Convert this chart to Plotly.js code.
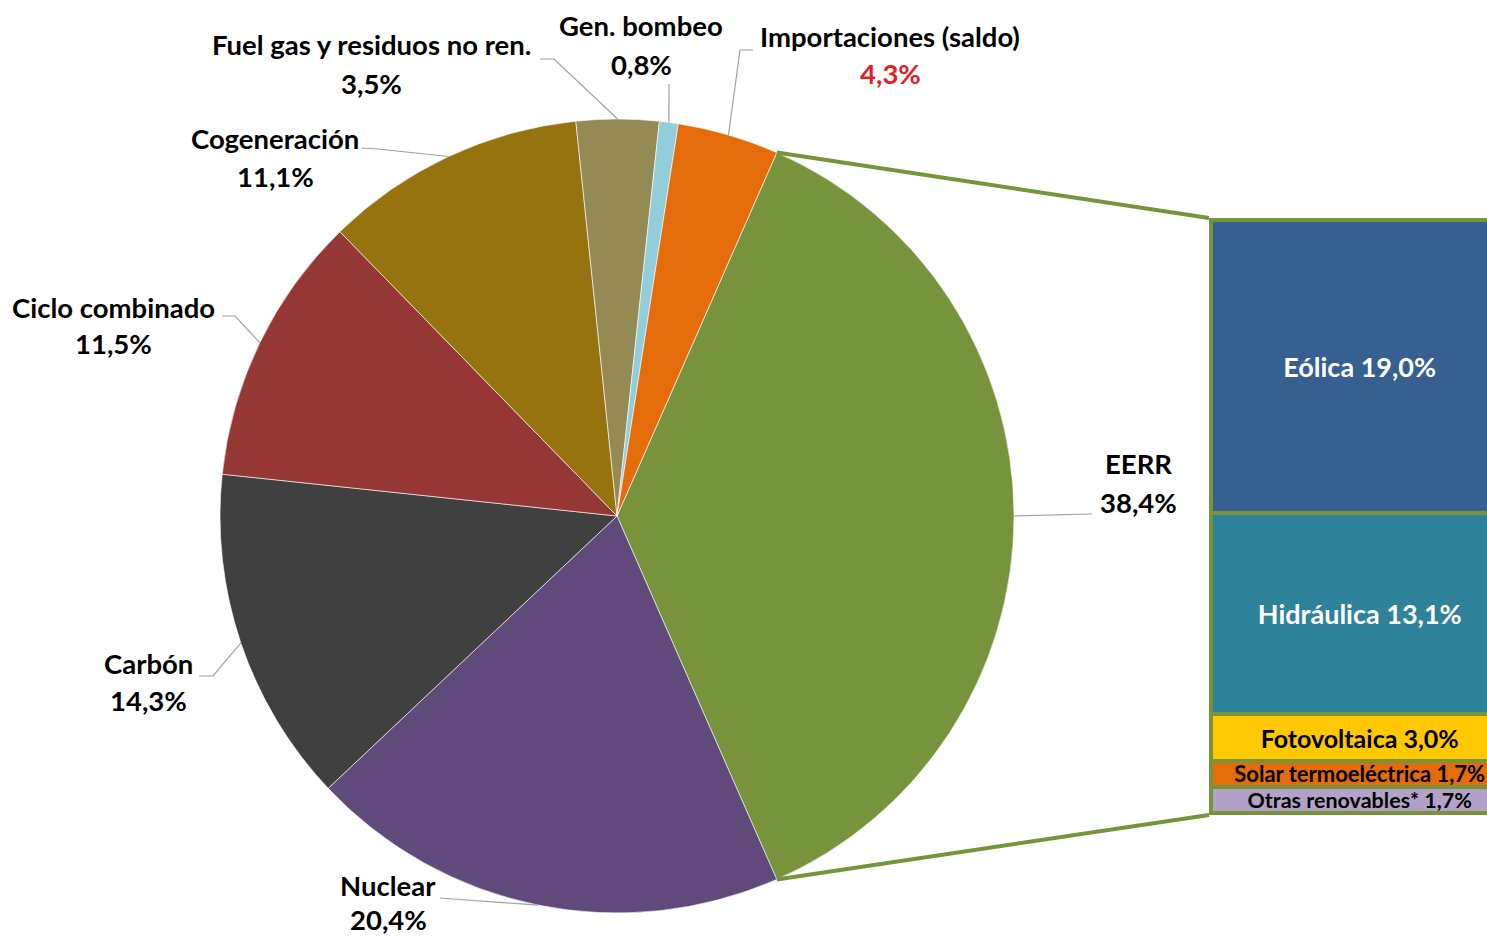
<!DOCTYPE html>
<html>
<head>
<meta charset="utf-8">
<script src="https://cdn.plot.ly/plotly-3.0.1.min.js"></script>
<style>html,body{margin:0;padding:0;background:#fff;}#chart{width:1487px;height:939px;}</style>
</head>
<body>
<div id="chart"></div>
<script>
// ---------- DATA ----------
const categories = ['EERR', 'Nuclear', 'Carbón', 'Ciclo combinado', 'Cogeneración',
  'Fuel gas y residuos no ren.', 'Gen. bombeo', 'Importaciones (saldo)'];
const shares = [38.4, 20.4, 14.3, 11.5, 11.1, 3.5, 0.8, 4.3];
const sliceColors = ['#77933C', '#604A7B', '#404040', '#953735', '#96730F', '#948A54', '#92CDDC', '#E46C0A'];

const renewCategories = ['Eólica', 'Hidráulica', 'Fotovoltaica', 'Solar termoeléctrica', 'Otras renovables*'];
const renewShares = [19.0, 13.1, 3.0, 1.7, 1.7];
const renewColors = ['#36608F', '#2E8299', '#FFC800', '#E46C0A', '#B3A2C7'];
const renewTextColors = ['#FFFFFF', '#FFFFFF', '#000000', '#000000', '#000000'];
const renewTextSizes = [27, 27, 25, 22, 21.5];

// ---------- LAYOUT SETTINGS ----------
const W = 1487, H = 939;
const FONT = 'Lato, "Open Sans", sans-serif';
const LABEL_SIZE = 27.5;
const green = '#77933C';
const pieCx = 617, pieCy = 516, pieR = 397;           // pixel placement of the pie
const pieDomX = [(pieCx - pieR) / W, (pieCx + pieR) / W];
const pieDomY = [(H - pieCy - pieR) / H, (H - pieCy + pieR) / H];

const barTopPx = 220, barBottomPx = 813, barLine = 4;
const xDom = [0.8, 1], xRange = [-0.572, 0.428];
const renewTotal = renewShares.reduce((a, b) => a + b, 0);
const pad = 0.4;
const yRange = [-pad, renewTotal + pad];
const pxPerUnit = (barBottomPx - barTopPx) / renewTotal;
const yDom = [(H - (barBottomPx + pad * pxPerUnit)) / H, (H - (barTopPx - pad * pxPerUnit)) / H];

// Label placement (pixels): name centre, pct centre, leader path points from text to slice edge
const labelPlacement = [
  {name: [1138, 463], pct: [1138, 502], leader: [[1092, 514]]},
  {name: [388, 885], pct: [388, 919], leader: [[440, 898]]},
  {name: [148, 663], pct: [148, 700], leader: [[199, 676], [213, 676]]},
  {name: [113, 307], pct: [113, 344], leader: [[222, 316], [235, 316]]},
  {name: [275, 138], pct: [275, 176], leader: [[362, 148], [378, 149]]},
  {name: [372, 45], pct: [372, 83], leader: [[540, 59], [554, 59]]},
  {name: [641, 26], pct: [641, 64], leader: [[669, 84]]},
  {name: [890, 37], pct: [890, 73], leader: [[753, 50], [740, 50]]}
];
const pctColors = ['#000', '#000', '#000', '#000', '#000', '#000', '#000', '#E41E26'];

// ---------- HELPERS ----------
const fmt = v => v.toFixed(1).replace('.', ',') + '%';
const total = shares.reduce((a, b) => a + b, 0);
const rotation = 90 - (shares[0] / total * 360) / 2;   // EERR centred at 3 o'clock
const toPaper = (px, py) => [px / W, 1 - py / H];
function edgePoint(deg) {
  const t = deg * Math.PI / 180;
  return [pieCx + pieR * Math.sin(t), pieCy - pieR * Math.cos(t)];
}

// ---------- TRACES ----------
const traces = [];
traces.push({
  type: 'pie',
  labels: categories,
  values: shares,
  sort: false,
  direction: 'clockwise',
  rotation: rotation,
  domain: {x: pieDomX, y: pieDomY},
  marker: {colors: sliceColors, line: {color: 'rgba(255,255,255,0.6)', width: 1}},
  textinfo: 'none',
  hoverinfo: 'label+percent',
  showlegend: false
});

for (let i = renewCategories.length - 1; i >= 0; i--) {
  traces.push({
    type: 'bar',
    x: [0],
    y: [renewShares[i]],
    width: [1],
    xaxis: 'x', yaxis: 'y',
    marker: {color: renewColors[i], line: {color: green, width: barLine}},
    text: ['<b>' + renewCategories[i] + ' ' + fmt(renewShares[i]) + '</b>'],
    textposition: 'inside',
    insidetextanchor: 'middle',
    textangle: 0,
    constraintext: 'none',
    textfont: {family: FONT, size: renewTextSizes[i], color: renewTextColors[i]},
    hoverinfo: 'text',
    showlegend: false
  });
}

// ---------- ANNOTATIONS & SHAPES ----------
const annotations = [];
const shapes = [];
let acc = 0;
shares.forEach((v, i) => {
  const start = rotation + acc / total * 360;
  acc += v;
  const end = rotation + acc / total * 360;
  const mid = (start + end) / 2;
  const L = labelPlacement[i];
  const n = toPaper(...L.name), p = toPaper(...L.pct);
  annotations.push({xref: 'paper', yref: 'paper', x: n[0], y: n[1], xanchor: 'center', yanchor: 'middle',
    showarrow: false, borderpad: 0, text: '<b>' + categories[i] + '</b>', font: {family: FONT, size: LABEL_SIZE, color: '#000'}});
  annotations.push({xref: 'paper', yref: 'paper', x: p[0], y: p[1], xanchor: 'center', yanchor: 'middle',
    showarrow: false, borderpad: 0, text: '<b>' + fmt(v) + '</b>', font: {family: FONT, size: LABEL_SIZE, color: pctColors[i]}});
  const pts = L.leader.concat([edgePoint(mid)]).map(q => toPaper(...q));
  shapes.push({type: 'path', xref: 'paper', yref: 'paper', layer: 'above',
    path: pts.map((q, k) => (k ? 'L' : 'M') + q[0] + ',' + q[1]).join(' '),
    line: {color: '#A0A0A0', width: 1.2}});
});

// connector lines from EERR slice edges to the breakdown bar
const eStart = edgePoint(rotation);
const eEnd = edgePoint(rotation + shares[0] / total * 360);
const barLeft = xDom[0] + (-0.5 - xRange[0]) / (xRange[1] - xRange[0]) * (xDom[1] - xDom[0]) - (barLine / 2) / W;
const yToPaper = v => yDom[0] + (v - yRange[0]) / (yRange[1] - yRange[0]) * (yDom[1] - yDom[0]);
const barTop = yToPaper(renewTotal) + (barLine / 2) / H;
const barBottom = yToPaper(0) - (barLine / 2) / H;
const s0 = toPaper(...eStart), s1 = toPaper(...eEnd);
shapes.push({type: 'line', xref: 'paper', yref: 'paper', x0: s0[0], y0: s0[1], x1: barLeft, y1: barTop,
  line: {color: green, width: 4}});
shapes.push({type: 'line', xref: 'paper', yref: 'paper', x0: s1[0], y0: s1[1], x1: barLeft, y1: barBottom,
  line: {color: green, width: 4}});

const layout = {
  width: W, height: H,
  margin: {l: 0, r: 0, t: 0, b: 0},
  paper_bgcolor: '#fff', plot_bgcolor: 'rgba(0,0,0,0)',
  showlegend: false,
  barmode: 'stack',
  bargap: 0,
  xaxis: {domain: xDom, range: xRange, visible: false, fixedrange: true},
  yaxis: {domain: yDom, range: yRange, visible: false, fixedrange: true},
  annotations: annotations,
  shapes: shapes,
  font: {family: FONT}
};

Plotly.newPlot('chart', traces, layout, {displayModeBar: false, staticPlot: true});
</script>
</body>
</html>
